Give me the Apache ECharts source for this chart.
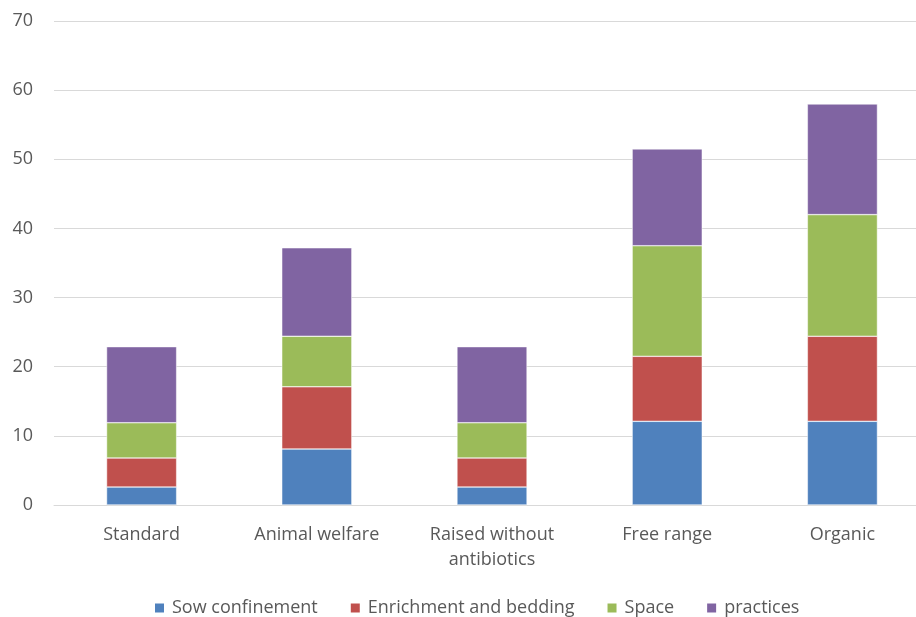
<!DOCTYPE html>
<html>
<head>
<meta charset="utf-8">
<script src="https://cdn.jsdelivr.net/npm/echarts@6/dist/echarts.min.js"></script>
<style>
  html, body { margin: 0; padding: 0; background: #fff; overflow: hidden; }
  #chart { width: 930px; height: 617px; }
</style>
</head>
<body>
<div id="chart"></div>
<script>
// Labelling schemes for pork, with points earned per welfare area
const categories = ['Standard', 'Animal welfare', 'Raised without\nantibiotics', 'Free range', 'Organic'];
const sowConfinement = [2.6, 8.1, 2.6, 12.1, 12.1];
const enrichmentBedding = [4.2, 9.0, 4.2, 9.4, 12.3];
const space = [5.1, 7.3, 5.1, 16.0, 17.6];
const practices = [11.0, 12.8, 11.0, 14.0, 16.0];
const yTicks = { min: 0, max: 70, interval: 10 };

const seriesDefs = [
  { name: 'Sow confinement', data: sowConfinement, color: '#4F81BD' },
  { name: 'Enrichment and bedding', data: enrichmentBedding, color: '#C0504D' },
  { name: 'Space', data: space, color: '#9BBB59' },
  { name: 'practices', data: practices, color: '#8064A2' }
];

const font = 'Open Sans, Noto Sans, sans-serif';
const chart = echarts.init(document.getElementById('chart'), null, { renderer: 'canvas' });
chart.setOption({
  animation: false,
  textStyle: { fontFamily: font },
  grid: { left: 54, right: 0, top: 21, bottom: 112, containLabel: false },
  legend: {
    top: 599,
    left: 153,
    padding: 0,
    itemWidth: 11,
    itemHeight: 11,
    itemGap: 31,
    icon: 'rect',
    textStyle: { fontSize: 18, color: '#595959', fontFamily: font, padding: [0, 0, 0, 2] },
    data: seriesDefs.map(s => s.name)
  },
  xAxis: {
    type: 'category',
    data: categories,
    axisLine: { lineStyle: { color: '#D9D9D9', width: 1 } },
    axisTick: { show: false },
    axisLabel: { color: '#595959', fontSize: 18, margin: 17, lineHeight: 25, fontFamily: font }
  },
  yAxis: {
    type: 'value',
    min: yTicks.min,
    max: yTicks.max,
    interval: yTicks.interval,
    axisLine: { show: false },
    axisTick: { show: false },
    splitLine: { lineStyle: { color: '#D9D9D9', width: 1 } },
    axisLabel: { color: '#595959', fontSize: 18, margin: 21, fontFamily: font }
  },
  series: seriesDefs.map(s => ({
    name: s.name,
    type: 'bar',
    stack: 'total',
    barWidth: '40%',
    data: s.data,
    itemStyle: { color: s.color, borderColor: '#ffffff', borderWidth: 0.5 }
  }))
});
</script>
</body>
</html>
